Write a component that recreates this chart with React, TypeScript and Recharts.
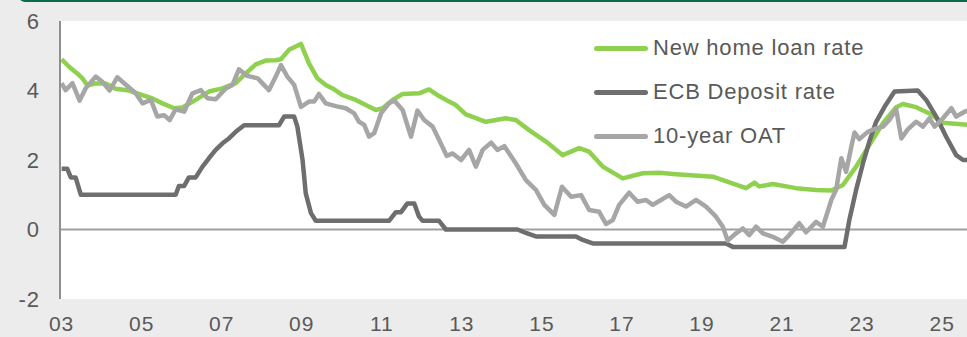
import React from "react";
import { LineChart, Line, XAxis, YAxis, CartesianGrid, ReferenceLine } from "recharts";

// ---- Data ----
const loanYears = [2003.0, 2003.18, 2003.39, 2003.52, 2003.64, 2003.85, 2004.1, 2004.35, 2004.68, 2005.02, 2005.27, 2005.52, 2005.81, 2006.02, 2006.35, 2006.68, 2007.02, 2007.35, 2007.6, 2007.85, 2008.1, 2008.35, 2008.48, 2008.68, 2008.98, 2009.18, 2009.39, 2009.6, 2009.77, 2010.02, 2010.35, 2010.6, 2010.85, 2011.02, 2011.27, 2011.52, 2011.93, 2012.18, 2012.43, 2012.68, 2012.85, 2013.1, 2013.6, 2014.1, 2014.35, 2014.68, 2015.1, 2015.52, 2015.93, 2016.18, 2016.52, 2017.02, 2017.52, 2017.93, 2018.35, 2019.27, 2020.1, 2020.31, 2020.43, 2020.77, 2021.35, 2021.85, 2022.23, 2022.52, 2022.85, 2023.18, 2023.52, 2023.85, 2024.02, 2024.35, 2024.68, 2025.02, 2025.7];
const loanRates = [4.9, 4.69, 4.49, 4.35, 4.15, 4.2, 4.2, 4.05, 4.0, 3.87, 3.77, 3.63, 3.49, 3.51, 3.73, 3.97, 4.06, 4.21, 4.49, 4.75, 4.86, 4.87, 4.9, 5.17, 5.34, 4.78, 4.35, 4.16, 4.06, 3.87, 3.73, 3.58, 3.44, 3.49, 3.73, 3.9, 3.92, 4.03, 3.84, 3.68, 3.58, 3.31, 3.1, 3.2, 3.15, 2.86, 2.53, 2.14, 2.34, 2.24, 1.81, 1.47, 1.62, 1.63, 1.59, 1.52, 1.19, 1.35, 1.24, 1.31, 1.19, 1.14, 1.12, 1.28, 1.81, 2.43, 3.06, 3.52, 3.61, 3.52, 3.34, 3.07, 3.01];

const ecbYears = [2003.0, 2003.14, 2003.23, 2003.35, 2003.48, 2005.85, 2005.93, 2006.06, 2006.18, 2006.35, 2006.52, 2006.68, 2006.85, 2007.02, 2007.18, 2007.35, 2007.56, 2008.43, 2008.56, 2008.81, 2008.89, 2009.02, 2009.1, 2009.23, 2009.35, 2011.18, 2011.35, 2011.48, 2011.64, 2011.81, 2011.93, 2012.02, 2012.43, 2012.6, 2014.39, 2014.6, 2014.85, 2015.85, 2016.02, 2016.27, 2019.6, 2019.77, 2022.56, 2022.68, 2022.85, 2023.02, 2023.18, 2023.35, 2023.56, 2023.81, 2024.39, 2024.6, 2024.85, 2025.1, 2025.35, 2025.52, 2025.7];
const ecbRates = [1.75, 1.75, 1.5, 1.5, 1.0, 1.0, 1.25, 1.25, 1.5, 1.5, 1.81, 2.05, 2.29, 2.48, 2.62, 2.81, 3.0, 3.0, 3.25, 3.25, 2.96, 2.0, 1.04, 0.47, 0.25, 0.25, 0.5, 0.5, 0.75, 0.75, 0.37, 0.25, 0.25, 0.0, 0.0, -0.1, -0.2, -0.2, -0.3, -0.4, -0.4, -0.5, -0.5, 0.27, 1.14, 1.9, 2.53, 3.1, 3.53, 3.97, 4.0, 3.73, 3.25, 2.67, 2.14, 2.0, 2.0];

const oatYears = [2003.0, 2003.1, 2003.27, 2003.45, 2003.6, 2003.85, 2004.02, 2004.2, 2004.39, 2004.52, 2004.85, 2005.02, 2005.23, 2005.39, 2005.56, 2005.7, 2005.85, 2006.06, 2006.27, 2006.48, 2006.64, 2006.85, 2007.1, 2007.27, 2007.43, 2007.64, 2007.9, 2008.18, 2008.35, 2008.48, 2008.64, 2008.81, 2008.98, 2009.18, 2009.31, 2009.43, 2009.6, 2009.85, 2010.1, 2010.31, 2010.43, 2010.56, 2010.68, 2010.81, 2010.98, 2011.18, 2011.31, 2011.52, 2011.73, 2011.89, 2012.06, 2012.27, 2012.43, 2012.62, 2012.77, 2012.98, 2013.18, 2013.35, 2013.52, 2013.73, 2013.89, 2014.06, 2014.35, 2014.6, 2014.85, 2015.06, 2015.31, 2015.5, 2015.73, 2015.98, 2016.18, 2016.43, 2016.6, 2016.77, 2016.93, 2017.18, 2017.39, 2017.6, 2017.77, 2017.9, 2018.18, 2018.35, 2018.6, 2018.85, 2019.1, 2019.35, 2019.52, 2019.64, 2019.85, 2020.02, 2020.18, 2020.35, 2020.52, 2020.77, 2021.02, 2021.18, 2021.43, 2021.6, 2021.85, 2022.02, 2022.23, 2022.35, 2022.48, 2022.6, 2022.73, 2022.81, 2022.93, 2023.14, 2023.35, 2023.52, 2023.68, 2023.85, 2023.98, 2024.14, 2024.35, 2024.52, 2024.68, 2024.81, 2025.02, 2025.23, 2025.35, 2025.56, 2025.7];
const oatYields = [4.21, 4.01, 4.21, 3.71, 4.06, 4.4, 4.25, 4.0, 4.38, 4.25, 3.92, 3.63, 3.73, 3.25, 3.29, 3.15, 3.46, 3.39, 3.92, 4.01, 3.78, 3.75, 4.06, 4.16, 4.61, 4.42, 4.35, 4.01, 4.4, 4.73, 4.4, 4.16, 3.53, 3.68, 3.68, 3.9, 3.63, 3.55, 3.49, 3.34, 3.1, 3.01, 2.67, 2.77, 3.34, 3.63, 3.71, 3.44, 2.67, 3.42, 3.15, 2.96, 2.58, 2.12, 2.19, 2.0, 2.29, 1.81, 2.29, 2.5, 2.29, 2.4, 1.9, 1.42, 1.14, 0.71, 0.42, 1.23, 0.94, 0.99, 0.56, 0.51, 0.16, 0.27, 0.71, 1.06, 0.8, 0.85, 0.71, 0.8, 0.99, 0.8, 0.66, 0.85, 0.66, 0.37, 0.08, -0.32, -0.11, 0.03, -0.16, 0.08, -0.11, -0.21, -0.35, -0.16, 0.18, -0.08, 0.22, 0.08, 0.85, 1.14, 2.05, 1.66, 2.38, 2.79, 2.6, 2.81, 2.91, 2.96, 3.15, 3.46, 2.62, 2.88, 3.1, 2.96, 3.2, 2.96, 3.2, 3.49, 3.25, 3.39, 3.44];

const yearTicks = [2003, 2005, 2007, 2009, 2011, 2013, 2015, 2017, 2019, 2021, 2023, 2025];
const yearLabels = ["03", "05", "07", "09", "11", "13", "15", "17", "19", "21", "23", "25"];
const valueTicks = [-2, 0, 2, 4, 6];

const seriesNames = ["New home loan rate", "ECB Deposit rate", "10-year OAT"];
const seriesColors = ["#8fd14f", "#6e6e6e", "#a6a6a6"];

const toPoints = (xs: number[], ys: number[]) => xs.map((x, i) => ({ x, v: ys[i] }));
const loanData = toPoints(loanYears, loanRates);
const ecbData = toPoints(ecbYears, ecbRates);
const oatData = toPoints(oatYears, oatYields);

const FONT = "'Liberation Sans', Arial, sans-serif";
const TEXT = "#595959";

const LegendBox = () => (
  <div style={{ position: "absolute", left: 594, top: 26, fontFamily: FONT }}>
    {seriesNames.map((name, i) => (
      <div key={name} style={{ display: "flex", alignItems: "center", height: 44 }}>
        <div style={{ width: 54, height: 5, borderRadius: 3, background: seriesColors[i] }} />
        <span style={{ marginLeft: 5, fontSize: 22, color: TEXT, letterSpacing: 0.8, whiteSpace: "nowrap" }}>{name}</span>
      </div>
    ))}
  </div>
);

export default function App() {
  return (
    <div style={{ position: "fixed", left: 0, top: 0, width: 967, height: 337, background: "#ececec", overflow: "hidden" }}>
      <div style={{ position: "absolute", left: 19, top: -10, width: 960, height: 12, borderRadius: 8, background: "#0d6b4d" }} />
      <LineChart width={967} height={337} margin={{ top: 21, right: 0, bottom: 0, left: 0 }}>
        <CartesianGrid horizontal={false} vertical={false} fill="#ffffff" stroke="none" />
        <XAxis
          type="number"
          dataKey="x"
          domain={[2002.96, 2025.62]}
          allowDataOverflow
          ticks={yearTicks}
          tickFormatter={(t: number) => yearLabels[yearTicks.indexOf(t)] ?? ""}
          axisLine={false}
          tickLine={false}
          tickSize={6}
          tickMargin={11}
          height={38}
          interval={0}
          tick={{ fill: TEXT, fontSize: 21, fontFamily: FONT, letterSpacing: 1 }}
        />
        <YAxis
          type="number"
          domain={[-2, 6]}
          ticks={valueTicks}
          width={60}
          interval={0}
          axisLine={{ stroke: "#8f8f8f", strokeWidth: 2 }}
          tickLine={false}
          tickSize={6}
          tickMargin={14}
          tick={{ fill: TEXT, fontSize: 22, fontFamily: FONT, letterSpacing: 1 }}
        />
        <ReferenceLine y={0} stroke="#a0a0a0" strokeWidth={2} />
        <Line data={loanData} dataKey="v" name={seriesNames[0]} stroke={seriesColors[0]} strokeWidth={4.5} dot={false} type="linear" isAnimationActive={false} strokeLinejoin="round" />
        <Line data={ecbData} dataKey="v" name={seriesNames[1]} stroke={seriesColors[1]} strokeWidth={4.5} dot={false} type="linear" isAnimationActive={false} strokeLinejoin="round" />
        <Line data={oatData} dataKey="v" name={seriesNames[2]} stroke={seriesColors[2]} strokeWidth={4.5} dot={false} type="linear" isAnimationActive={false} strokeLinejoin="round" />
      </LineChart>
      <LegendBox />
    </div>
  );
}
